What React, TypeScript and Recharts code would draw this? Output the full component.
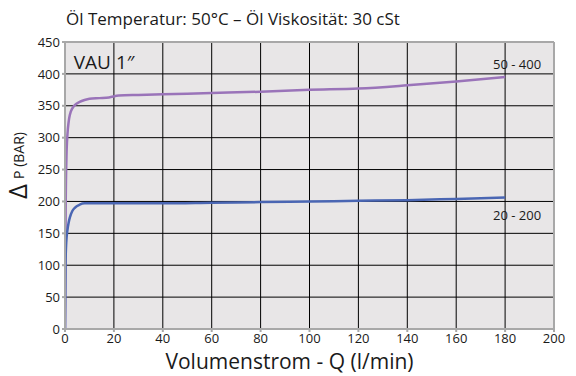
import { CartesianGrid, Label, Line, LineChart, ReferenceDot, ReferenceLine, XAxis, YAxis } from "recharts";

const xTicks = [0, 20, 40, 60, 80, 100, 120, 140, 160, 180, 200];
const yTicks = [0, 50, 100, 150, 200, 250, 300, 350, 400, 450];

// 50 - 400 bar setting
const flowHigh = [0, 0.3, 0.6, 1, 1.5, 2, 3, 4, 6, 8, 10, 14, 18, 22, 30, 40, 60, 80, 100, 120, 140, 160, 180];
const dpHigh = [0, 200, 270, 305, 325, 336, 346, 351, 356, 359, 361, 362, 363, 366, 367, 368, 370, 372, 375, 377, 382, 388, 395];

// 20 - 200 bar setting
const flowLow = [0, 0.2, 0.5, 1, 1.5, 2, 3, 4, 6, 8, 10, 20, 40, 60, 80, 100, 120, 140, 160, 180];
const dpLow = [0, 100, 135, 155, 167, 175, 185, 190, 195, 197, 197, 197, 197, 198, 199, 200, 201, 202, 204, 206];

const highData = flowHigh.map((q, i) => ({ q, dp: dpHigh[i] }));
const lowData = flowLow.map((q, i) => ({ q, dp: dpLow[i] }));

const font = "'Open Sans', sans-serif";
const frame = "#a8a8a8";

const YLabel = ({ viewBox }: any) => {
  const cx = 20;
  const cy = viewBox.y + viewBox.height / 2 - 20;
  return (
    <text transform={`translate(${cx},${cy}) rotate(-90)`} textAnchor="middle" fontFamily={font} fill="#1a1a1a">
      <tspan fontSize={26} dy={7}>Δ</tspan>
      <tspan fontSize={14} dx={5} dy={-3}>P (BAR)</tspan>
    </text>
  );
};

const Tag = (text: string, dx = 0) => ({ viewBox }: any) => (
  <text x={viewBox.x + dx} y={viewBox.y + 5} textAnchor="middle" fontFamily={font} fontSize={13} fill="#1a1a1a">
    {text}
  </text>
);

const XLabel = ({ viewBox }: any) => (
  <text x={viewBox.x + viewBox.width / 2 - 20} y={369} textAnchor="middle" fontFamily={font} fontSize={21} fill="#1a1a1a">
    Volumenstrom - Q (l/min)
  </text>
);

export default function App() {
  return (
    <div style={{ position: "absolute", left: 0, top: 0, width: 576, height: 376, background: "#fff", fontFamily: font }}>
      <div style={{ position: "absolute", left: 66, top: 7, fontSize: 17, color: "#1a1a1a", whiteSpace: "nowrap" }}>
        Öl Temperatur: 50°C – Öl Viskosität: 30 cSt
      </div>
      <LineChart width={576} height={376} data={highData} margin={{ top: 42, right: 22, bottom: 17, left: 35 }}>
        <CartesianGrid stroke="#000" strokeWidth={1} fill="#e8e6e7" fillOpacity={1} />
        <XAxis
          type="number"
          dataKey="q"
          domain={[0, 200]}
          ticks={xTicks}
          height={30}
          stroke={frame}
          strokeWidth={2}
          tickSize={3}
          tick={{ fill: "#1a1a1a", fontSize: 13, fontFamily: font }}
          allowDataOverflow
        >
          <Label content={<XLabel />} />
        </XAxis>
        <YAxis
          type="number"
          domain={[0, 450]}
          ticks={yTicks}
          width={30}
          stroke={frame}
          strokeWidth={2}
          tickSize={3}
          tick={{ fill: "#1a1a1a", fontSize: 13, fontFamily: font }}
          allowDataOverflow
        >
          <Label content={<YLabel />} />
        </YAxis>
        <ReferenceLine x={200} stroke={frame} strokeWidth={2} />
        <ReferenceLine y={450} stroke={frame} strokeWidth={2} />
        <Line data={highData} dataKey="dp" type="monotone" stroke="#9a74b9" strokeWidth={2.5} dot={false} isAnimationActive={false} />
        <Line data={lowData} dataKey="dp" type="monotone" stroke="#4a66b3" strokeWidth={2.5} dot={false} isAnimationActive={false} />
        <ReferenceDot x={180} y={415} r={0} fill="none" stroke="none" label={Tag("50 - 400", 12)} />
        <ReferenceDot x={180} y={179} r={0} fill="none" stroke="none" label={Tag("20 - 200", 12)} />
        <ReferenceDot x={16} y={418} r={0} fill="none" stroke="none" label={({ viewBox }: any) => (
          <text x={viewBox.x} y={viewBox.y + 7} textAnchor="middle" fontFamily={font} fontSize={19} fill="#1a1a1a">VAU 1″</text>
        )} />
      </LineChart>
    </div>
  );
}
